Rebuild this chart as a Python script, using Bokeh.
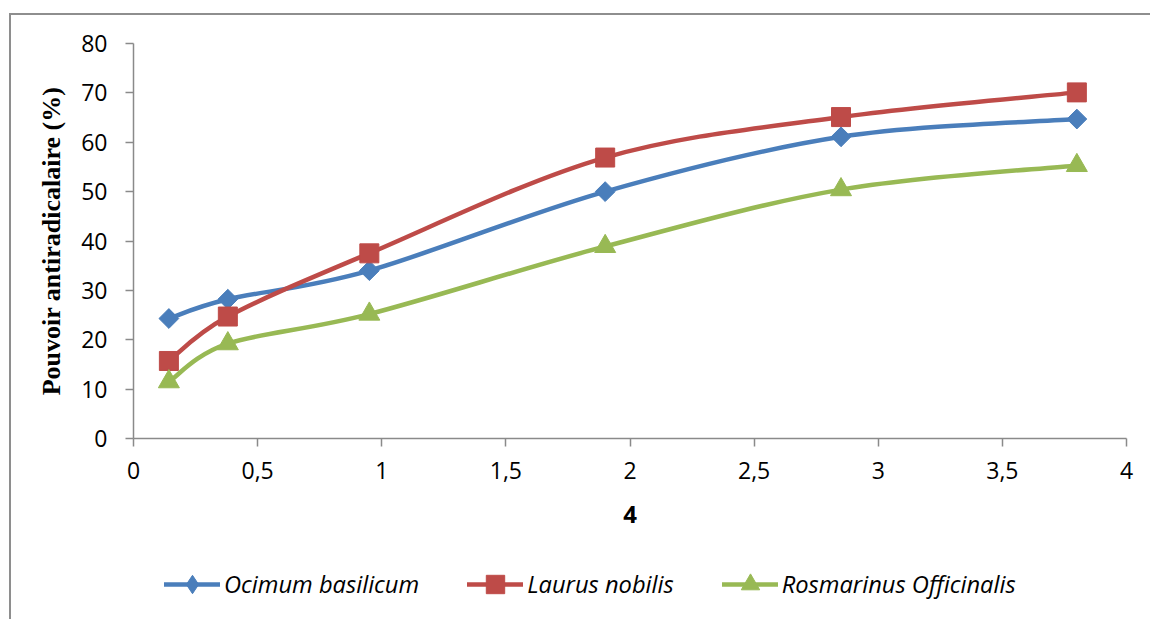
from bokeh.plotting import figure
from bokeh.layouts import column
from bokeh.models import FixedTicker, Legend, LegendItem, Range1d
from bokeh.embed import file_html
from bokeh.resources import INLINE

# Concentration values (x) and antiradical power (%) for each essential oil
concentration = [0.1425, 0.38, 0.95, 1.9, 2.85, 3.8]
ocimum_basilicum = [24.3, 28.2, 34.0, 50.0, 61.1, 64.7]
laurus_nobilis = [15.7, 24.7, 37.5, 56.9, 65.1, 70.1]
rosmarinus_officinalis = [11.5, 19.2, 25.2, 38.9, 50.4, 55.3]

series_names = ["Ocimum basilicum", "Laurus nobilis", "Rosmarinus Officinalis"]
x_ticks = [0, 0.5, 1, 1.5, 2, 2.5, 3, 3.5, 4]
x_tick_labels = ["0", "0,5", "1", "1,5", "2", "2,5", "3", "3,5", "4"]
y_ticks = [0, 10, 20, 30, 40, 50, 60, 70, 80]

colors = ["#4A7EBB", "#BE4B48", "#98B954"]
TICK_FONT = "Open Sans"


def smooth_segments(xs, ys):
    """Cubic Bezier control points for a Catmull-Rom style smoothed line."""
    n = len(xs)
    seg = dict(x0=[], y0=[], x1=[], y1=[], cx0=[], cy0=[], cx1=[], cy1=[])
    for i in range(n - 1):
        p0 = i - 1 if i > 0 else i
        p3 = i + 2 if i + 2 < n else i + 1
        seg["x0"].append(xs[i]); seg["y0"].append(ys[i])
        seg["x1"].append(xs[i + 1]); seg["y1"].append(ys[i + 1])
        seg["cx0"].append(xs[i] + (xs[i + 1] - xs[p0]) / 6)
        seg["cy0"].append(ys[i] + (ys[i + 1] - ys[p0]) / 6)
        seg["cx1"].append(xs[i + 1] - (xs[p3] - xs[i]) / 6)
        seg["cy1"].append(ys[i + 1] - (ys[p3] - ys[i]) / 6)
    return seg


p = figure(
    width=1139, height=530,
    x_range=Range1d(0, 4), y_range=Range1d(0, 80),
    output_backend="svg", toolbar_location=None,
    min_border_left=122, min_border_right=24,
    min_border_top=28, min_border_bottom=107,
)
p.outline_line_color = None
p.grid.visible = False

# axes
for ax in (p.xaxis[0], p.yaxis[0]):
    ax.axis_line_color = "#8a8a8a"
    ax.axis_line_width = 1.5
    ax.major_tick_line_color = "#8a8a8a"
    ax.major_tick_line_width = 1.5
    ax.major_tick_in = 0
    ax.major_tick_out = 8
    ax.minor_tick_line_color = None
    ax.major_label_text_font = TICK_FONT
    ax.major_label_text_font_size = "23px"
    ax.major_label_text_color = "#000000"
    ax.axis_label_text_color = "#000000"

p.xaxis.ticker = FixedTicker(ticks=x_ticks)
p.xaxis.major_label_overrides = {t: l for t, l in zip(x_ticks, x_tick_labels)}
p.xaxis.major_label_standoff = 15
p.xaxis.axis_label = "4"
p.xaxis.axis_label_text_font = TICK_FONT
p.xaxis.axis_label_text_font_style = "bold"
p.xaxis.axis_label_text_font_size = "24px"
p.xaxis.axis_label_standoff = 24

p.yaxis.ticker = FixedTicker(ticks=y_ticks)
p.yaxis.major_label_standoff = 18
p.yaxis.axis_label = "Pouvoir antiradicalaire (%)"
p.yaxis.axis_label_text_font = "Liberation Serif"
p.yaxis.axis_label_text_font_style = "bold"
p.yaxis.axis_label_text_font_size = "26px"
p.yaxis.axis_label_standoff = 12

# plot markers (diamond = rotated square) and the matching legend keys
markers = [
    dict(marker="square", size=14, angle=0.785398, key="diamond"),
    dict(marker="square", size=19, angle=0.0, key="square"),
    dict(marker="triangle", size=21, angle=0.0, key="triangle"),
]

# strip below the chart that holds the horizontal legend; its y range sits
# far above the data so the key renderers only show up as legend glyphs
leg_fig = figure(
    width=1139, height=74,
    x_range=Range1d(0, 4), y_range=Range1d(1000, 1001),
    x_axis_type=None, y_axis_type=None,
    output_backend="svg", toolbar_location=None,
    min_border=0,
)
leg_fig.outline_line_color = None
leg_fig.grid.visible = False

legend_items = []
for name, ys, color, mk in zip(series_names,
                               [ocimum_basilicum, laurus_nobilis, rosmarinus_officinalis],
                               colors, markers):
    seg = smooth_segments(concentration, ys)
    p.bezier(source=seg, x0="x0", y0="y0", x1="x1", y1="y1",
             cx0="cx0", cy0="cy0", cx1="cx1", cy1="cy1",
             line_color=color, line_width=4.5)
    p.scatter(concentration, ys, marker=mk["marker"], size=mk["size"],
              angle=mk["angle"], fill_color=color, line_color=color)
    key_line = leg_fig.line(concentration, ys, line_color=color, line_width=4.5,
                            line_cap="round")
    key_mark = leg_fig.scatter(concentration, ys, marker=mk["key"],
                               fill_color=color, line_color=color)
    legend_items.append(LegendItem(label=name, renderers=[key_line, key_mark]))

legend = Legend(
    items=legend_items,
    orientation="horizontal",
    location=(31, 12),
    glyph_width=56, glyph_height=46,
    label_height=20, label_standoff=4,
    spacing=48, padding=0, margin=0,
    border_line_color=None, background_fill_alpha=0,
    label_text_font=TICK_FONT,
    label_text_font_style="italic",
    label_text_font_size="23.7px",
    label_text_color="#000000",
)
leg_fig.add_layout(legend, "center")

layout = column(p, leg_fig, spacing=0)
layout.styles = {
    "border-top": "2px solid #8e8e8e",
    "border-left": "2px solid #8e8e8e",
    "margin-top": "13px",
    "margin-left": "9px",
}

open("out.html", "w").write(file_html(layout, INLINE))
